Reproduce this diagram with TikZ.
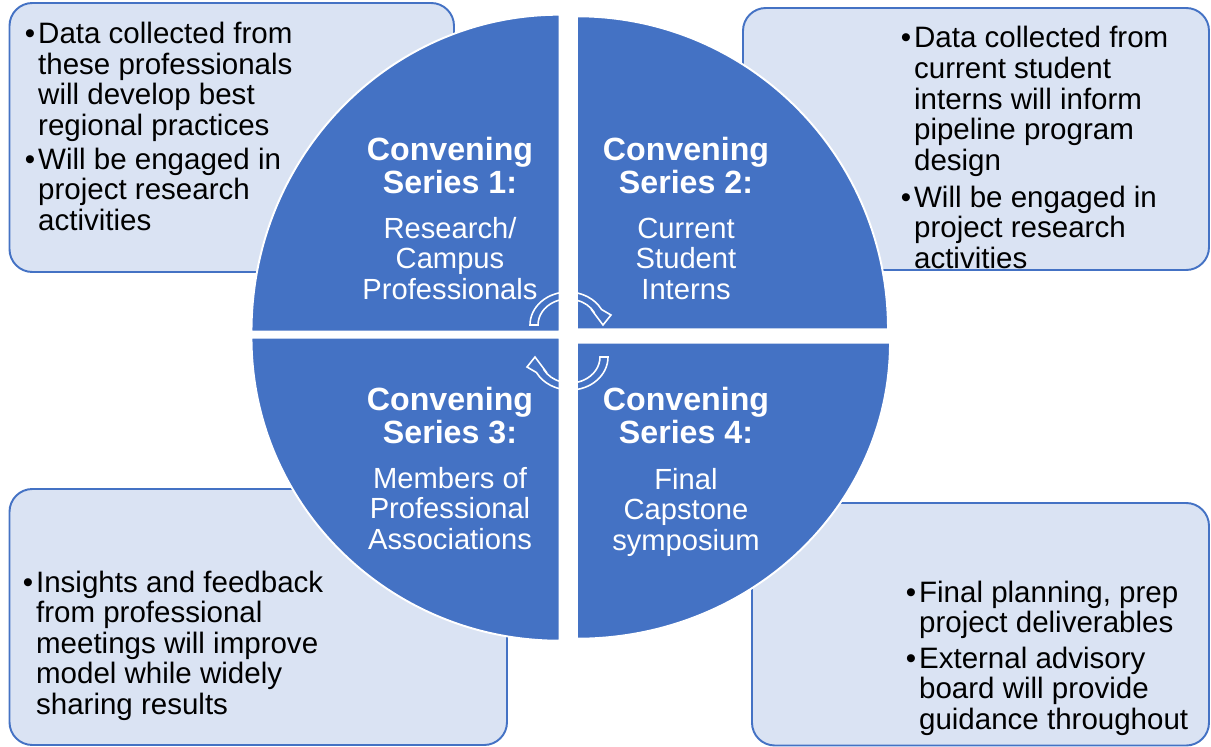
\documentclass[tikz,border=0pt]{standalone}
\usepackage{fontspec}
\setmainfont{Liberation Sans}
\usepackage{tikz}

\definecolor{quadblue}{HTML}{4472C4}
\definecolor{panelblue}{HTML}{DAE3F3}
\newcommand{\bul}{\makebox[7.6pt][l]{•}}

\begin{document}
\begin{tikzpicture}[x=0.02cm, y=-0.02cm,
  panel/.style={fill=panelblue, draw=quadblue, line width=1.1pt, rounded corners=13pt},
  quad/.style={fill=quadblue, draw=white, line width=1.1pt},
  turn/.style={draw=white, line width=0.9pt, line join=miter},
  head/.style={anchor=base, inner sep=0pt, text=white, font=\fontsize{18.3}{18.8}\selectfont\bfseries},
  body/.style={anchor=base, inner sep=0pt, text=white, font=\fontsize{16.6}{17.6}\selectfont},
  note/.style={anchor=base west, inner sep=0pt, font=\fontsize{16.8}{17.36}\selectfont}]

  \useasboundingbox (0,0) rectangle (1211,747);

  % the four side panels
  \draw[panel] (9.5,3) rectangle (454,272);
  \draw[panel] (743,8) rectangle (1209,270);
  \draw[panel] (9.5,489) rectangle (507,745);
  \draw[panel] (752,503) rectangle (1209,745.5);

  % draw the quadrants
  \foreach \cx/\cy/\a/\rx/\ry in {559.5/331.7/180/308/317, 577/329.3/270/311/313,
                                  577/342.7/0/313/296, 559.5/337.7/90/308/303}
  {
    \draw[quad] (\cx,\cy) -- ++(\a:{\rx} and {\ry})
      arc[start angle=\a, delta angle=90, x radius=\rx, y radius=\ry] -- cycle;
  }

  % the two turning arrows
  \foreach \r in {0,180}
    \draw[turn, rotate around={\r:(569,341)}] (530,325)
      arc[start angle=180, end angle=332, x radius=38, y radius=33]
      -- (611,315) -- (603,325) -- (591,309) -- (594.5,312.8)
      arc[start angle=332, end angle=180, x radius=30, y radius=26] -- cycle;

  % series titles
  \foreach \n/\x/\y in {1/450/160, 2/686/160, 3/450/410, 4/686/410}
    \node[head] (head\n) at (\x,\y) {\begin{tabular}[t]{@{}c@{}}Convening\\Series \n:\end{tabular}};

  \node[body] (body1) at (450,238) {\begin{tabular}[t]{@{}c@{}}Research/\\Campus\\Professionals\end{tabular}};
  \node[body] (body2) at (686,238) {\begin{tabular}[t]{@{}c@{}}Current\\Student\\Interns\end{tabular}};
  \node[body] (body3) at (450,488) {\begin{tabular}[t]{@{}c@{}}Members of\\Professional\\Associations\end{tabular}};
  \node[body] (body4) at (686,489) {\begin{tabular}[t]{@{}c@{}}Final\\Capstone\\symposium\end{tabular}};

  % panel texts
  \node[note] (note1) at (24.5,43.5) {\begin{tabular}[t]{@{}l@{}l@{}}
    \bul & Data collected from\\ & these professionals\\ & will develop best\\ & regional practices\\[2pt]
    \bul & Will be engaged in\\ & project research\\ & activities\end{tabular}};
  \node[note] (note2) at (900.4,48) {\begin{tabular}[t]{@{}l@{}l@{}}
    \bul & Data collected from\\ & current student\\ & interns will inform\\ & pipeline program\\ & design\\[3.7pt]
    \bul & Will be engaged in\\ & project research\\ & activities\end{tabular}};
  \node[note] (note3) at (22.4,592) {\begin{tabular}[t]{@{}l@{}l@{}}
    \bul & Insights and feedback\\ & from professional\\ & meetings will improve\\ & model while widely\\ & sharing results\end{tabular}};
  \node[note] (note4) at (905.4,602) {\begin{tabular}[t]{@{}l@{}l@{}}
    \bul & Final planning, prep\\ & project deliverables\\[3pt]
    \bul & External advisory\\ & board will provide\\ & guidance throughout\end{tabular}};

\end{tikzpicture}
\end{document}
